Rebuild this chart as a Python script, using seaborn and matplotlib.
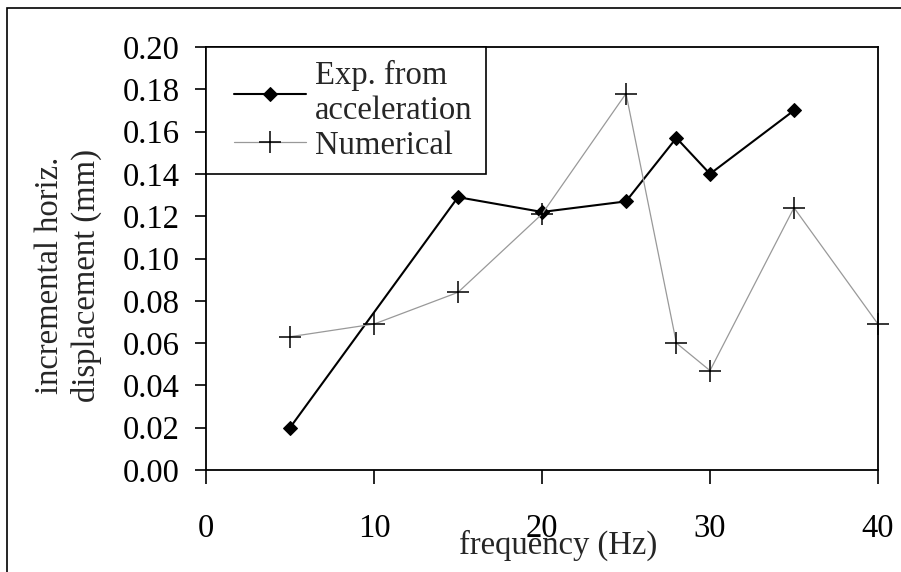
import pandas as pd
import matplotlib
matplotlib.use('Agg')
import matplotlib.pyplot as plt
from matplotlib.patches import Rectangle
from matplotlib.legend_handler import HandlerLine2D
import seaborn as sns

# values
exp_freq = [5, 15, 20, 25, 28, 30, 35]
exp_disp = [0.020, 0.129, 0.122, 0.127, 0.157, 0.140, 0.170]

num_freq = [5, 10, 15, 20, 25, 28, 30, 35, 40]
num_disp = [0.063, 0.069, 0.084, 0.121, 0.178, 0.060, 0.047, 0.124, 0.069]

x_ticks = [0, 10, 20, 30, 40]
y_ticks = [0.00, 0.02, 0.04, 0.06, 0.08, 0.10, 0.12, 0.14, 0.16, 0.18, 0.20]

exp_df = pd.DataFrame({'freq': exp_freq, 'disp': exp_disp})
num_df = pd.DataFrame({'freq': num_freq, 'disp': num_disp})

sns.set_style('ticks')
plt.rcParams['font.family'] = ['Liberation Serif', 'DejaVu Serif']
fs = 23.5
plt.rcParams['font.size'] = fs

fig = plt.figure(figsize=(9.01, 5.72), dpi=100)
ax = fig.add_axes([206 / 901, 1 - 470 / 572, 672 / 901, 423 / 572])

sns.lineplot(data=exp_df, x='freq', y='disp', ax=ax, color='black', linewidth=1.5,
             marker='D', markersize=7.5, markeredgecolor='black', label='Exp. from\nacceleration')
sns.lineplot(data=num_df, x='freq', y='disp', ax=ax, color='#999999', linewidth=0.9,
             marker='+', markersize=16, markeredgecolor='black', markeredgewidth=1.1,
             label='Numerical', clip_on=False)

ax.set_xlim(0, 40)
ax.set_ylim(0, 0.20)
ax.set_xticks(x_ticks)
ax.set_yticks(y_ticks)
ax.set_xticklabels([str(t) for t in x_ticks])
ax.set_yticklabels(['%.2f' % t for t in y_ticks])
for s in ax.spines.values():
    s.set_visible(True)
    s.set_color('black')
    s.set_linewidth(1.3)
ax.tick_params(axis='x', direction='out', length=10, width=1.2, pad=21, labelsize=fs, colors='black')
ax.tick_params(axis='y', direction='out', length=8, width=1.2, pad=11, labelsize=fs, colors='black')

ax.set_xlabel('frequency (Hz)', fontsize=fs)
ax.xaxis.set_label_coords(0.524, -0.14)
ax.set_ylabel('incremental horiz.\ndisplacement (mm)', fontsize=fs, linespacing=1.25)
ax.yaxis.set_label_coords(-0.155, 0.46)

leg = ax.legend(loc='upper left', bbox_to_anchor=(0, 1), borderaxespad=0, fancybox=False,
                edgecolor='black', framealpha=1, fontsize=fs, handlelength=2.65,
                labelspacing=0.12, borderpad=0.4, handletextpad=0.3,
                handler_map={matplotlib.lines.Line2D: HandlerLine2D(xpad=0.45)})
leg.get_frame().set_linewidth(1.2)
for t in leg.get_texts():
    t.set_linespacing(1.2)

# outer frame of the picture
fig.patches.append(Rectangle((7 / 901, -0.1), 1.2, 1 - 8 / 572 + 0.1, transform=fig.transFigure,
                             fill=False, edgecolor='black', linewidth=1.2))

fig.savefig('out.png', dpi=100)
